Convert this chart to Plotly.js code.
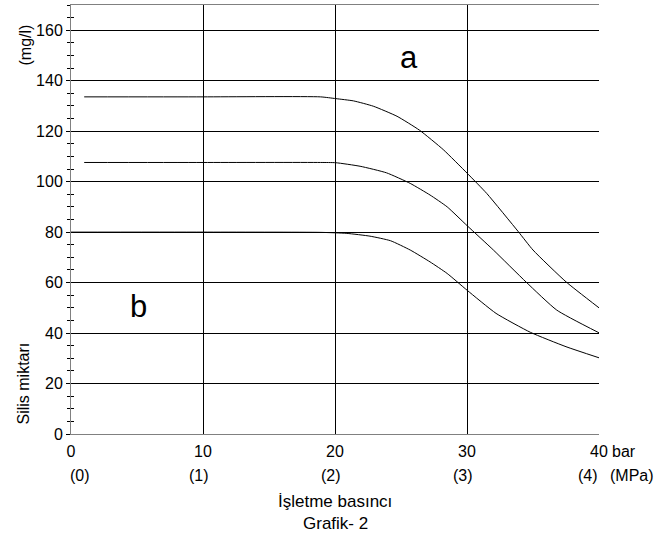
<!DOCTYPE html>
<html>
<head>
<meta charset="utf-8">
<script src="https://cdn.plot.ly/plotly-3.0.1.min.js"></script>
<style>html,body{margin:0;padding:0;background:#fff;}#chart{width:661px;height:542px;}</style>
</head>
<body>
<div id="chart"></div>
<script>
// Pressure (bar) and silica amount (mg/l) for the three curves
const topX = [1, 10, 18.9, 20.06, 21.4, 22.9, 24.7, 26.4, 28.2, 30.0, 31.5, 33.9, 35, 37.5, 40];
const topY = [133.6, 133.6, 133.6, 132.9, 132.0, 129.9, 125.9, 120.4, 112.7, 103.4, 95.3, 80.1, 72.9, 60.3, 50.0];
const midX = [1, 10, 18.9, 20.06, 21.9, 23.9, 25.7, 27.2, 28.5, 30, 32, 34.5, 36.8, 40];
const midY = [107.6, 107.6, 107.6, 107.5, 106.1, 103.5, 99.3, 94.7, 90.0, 82.6, 72.9, 60.1, 49.1, 40.1];
const lowX = [0, 10, 18.9, 20.9, 22.65, 24.2, 25.7, 27.2, 28.5, 30, 32.2, 34.8, 37.5, 40];
const lowY = [80, 80, 79.9, 79.5, 78.4, 76.6, 72.9, 68.2, 63.6, 57.0, 47.8, 40.3, 34.6, 30.2];

const xTickVals = [0, 10, 20, 30, 40];
const xTickText = ['0', '10', '20', '30', '40'];
const mpaText = ['(0)', '(1)', '(2)', '(3)', '(4)'];
const yTickVals = [0, 20, 40, 60, 80, 100, 120, 140, 160];

const FONT = 'Liberation Sans, Arial, sans-serif';
const line = {color: '#000', width: 1, shape: 'spline', smoothing: 0.5};
const traces = [
  {x: topX, y: topY, mode: 'lines', line: line, hoverinfo: 'skip'},
  {x: midX, y: midY, mode: 'lines', line: line, hoverinfo: 'skip'},
  {x: lowX, y: lowY, mode: 'lines', line: line, hoverinfo: 'skip'},
  {x: [0], y: [0], yaxis: 'y2', mode: 'markers', marker: {opacity: 0}, hoverinfo: 'skip'}
];

const annotations = [];
mpaText.forEach((t, i) => {
  annotations.push({
    x: xTickVals[i], xref: 'x', y: 0, yref: 'paper', text: t, showarrow: false,
    xanchor: i === 0 ? 'left' : (i === mpaText.length - 1 ? 'right' : 'center'),
    xshift: i === 0 ? -3 : (i === mpaText.length - 1 ? 1 : -4),
    yanchor: 'middle', yshift: -41, font: {family: FONT, size: 16, color: '#000'}
  });
});
annotations.push({x: 40, xref: 'x', y: 0, yref: 'paper', text: 'bar', showarrow: false,
  xanchor: 'left', xshift: 11, yanchor: 'middle', yshift: -17, font: {family: FONT, size: 16, color: '#000'}});
annotations.push({x: 40, xref: 'x', y: 0, yref: 'paper', text: '(MPa)', showarrow: false,
  xanchor: 'left', xshift: 9, yanchor: 'middle', yshift: -41, font: {family: FONT, size: 16, color: '#000'}});
annotations.push({x: 0.5, xref: 'paper', y: 0, yref: 'paper', text: 'İşletme basıncı', showarrow: false,
  xanchor: 'center', yanchor: 'middle', yshift: -67, font: {family: FONT, size: 17, color: '#000'}});
annotations.push({x: 0.5, xref: 'paper', y: 0, yref: 'paper', text: 'Grafik- 2', showarrow: false,
  xanchor: 'center', yanchor: 'middle', yshift: -89, font: {family: FONT, size: 17, color: '#000'}});
annotations.push({x: 0, xref: 'paper', y: 0, yref: 'paper', text: 'Silis miktarı', showarrow: false,
  textangle: -90, xanchor: 'center', yanchor: 'middle', xshift: -48.5, yshift: 50, font: {family: FONT, size: 16, color: '#000'}});
annotations.push({x: 0, xref: 'paper', y: 1, yref: 'paper', text: '(mg/l)', showarrow: false,
  textangle: -90, xanchor: 'center', yanchor: 'middle', xshift: -46.5, yshift: -40, font: {family: FONT, size: 16, color: '#000'}});
annotations.push({x: 25.6, y: 149, text: 'a', showarrow: false, font: {family: FONT, size: 31, color: '#000'}});
annotations.push({x: 5.1, y: 50.5, text: 'b', showarrow: false, font: {family: FONT, size: 31, color: '#000'}});

const layout = {
  width: 661, height: 542,
  margin: {l: 70.5, r: 61.7, t: 5, b: 108, pad: 0},
  paper_bgcolor: '#fff', plot_bgcolor: '#fff',
  showlegend: false,
  font: {family: FONT, size: 16, color: '#000'},
  xaxis: {
    range: [0, 40], tickmode: 'array', tickvals: xTickVals, ticktext: xTickText,
    showgrid: true, gridcolor: '#000', gridwidth: 1, zeroline: false,
    showline: true, linecolor: '#808080', linewidth: 1, mirror: true,
    ticks: '', ticklabelstandoff: 3, tickfont: {family: FONT, size: 16, color: '#000'}
  },
  yaxis: {
    range: [0, 170], tickmode: 'array', tickvals: yTickVals,
    showgrid: true, gridcolor: '#000', gridwidth: 1, zeroline: false,
    showline: true, linecolor: '#808080', linewidth: 1,
    ticks: 'outside', ticklen: 4, tickcolor: '#000', tickwidth: 1,
    minor: {dtick: 5, tick0: 0, ticks: 'outside', ticklen: 3, tickcolor: '#000', showgrid: false},
    ticksuffix: '\u00a0',
    tickfont: {family: FONT, size: 16, color: '#000'}
  },
  yaxis2: {
    overlaying: 'y', side: 'left', range: [0, 170], dtick: 5, tick0: 0,
    ticks: 'inside', ticklen: 3, tickcolor: '#000', showticklabels: false,
    showgrid: false, zeroline: false, showline: false
  },
  annotations: annotations
};

Plotly.newPlot('chart', traces, layout, {displayModeBar: false, staticPlot: true});
</script>
</body>
</html>
